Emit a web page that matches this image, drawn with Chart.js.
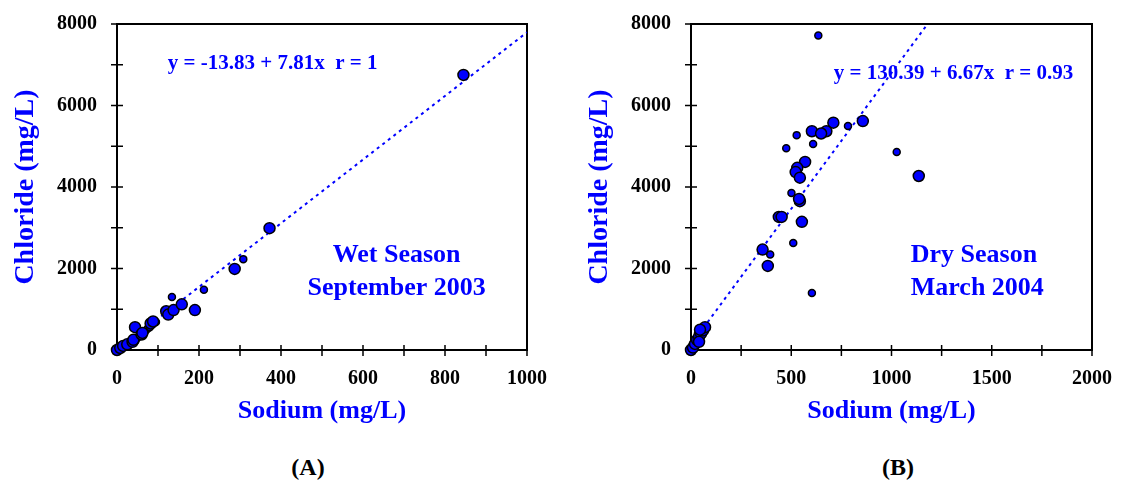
<!DOCTYPE html>
<html>
<head>
<meta charset="utf-8">
<script src="https://cdn.jsdelivr.net/npm/chart.js@4.4.1/dist/chart.umd.min.js"></script>
<style>
    body { margin: 0; background: #fff; width: 1121px; height: 495px; position: relative; overflow: hidden; }
    canvas { position: absolute; top: 0; }
    #chartA { left: 0; }
    #chartB { left: 574px; }
    .panel-label {
        position: absolute; top: 454px; width: 60px; margin-left: -30px;
        text-align: center; font: bold 24px "Liberation Serif", serif; color: #000;
    }
</style>
</head>
<body>
<canvas id="chartA" width="560" height="440"></canvas>
<canvas id="chartB" width="547" height="440"></canvas>
<div class="panel-label" style="left:308px">(A)</div>
<div class="panel-label" style="left:898px">(B)</div>

<script>
// Sodium vs chloride (mg/L), wet season September 2003
const wetNaLarge = [0, 8, 15, 25, 38, 40, 44, 60, 62, 82, 88, 120, 125, 138, 158, 190, 287, 372, 845];
const wetClLarge = [0, 50, 100, 140, 200, 250, 560, 380, 420, 650, 700, 950, 870, 980, 1120, 980, 1990, 2990, 6750];
const wetNaSmall = [3, 12, 20, 30, 45, 50, 70, 75, 80, 95, 130, 134, 212, 308];
const wetClSmall = [20, 80, 120, 160, 230, 300, 480, 530, 560, 690, 930, 1300, 1480, 2230];

// Dry season March 2004
const dryNaLarge = [0, 10, 20, 30, 40, 50, 60, 70, 45, 40, 710, 857, 603, 675, 649, 569, 1136, 530, 522, 543, 543, 539, 438, 452, 553, 357, 383];
const dryClLarge = [0, 60, 150, 250, 330, 400, 480, 560, 500, 200, 5578, 5618, 5369, 5369, 5313, 4615, 4270, 4470, 4366, 4230, 3652, 3708, 3266, 3266, 3146, 2464, 2063];
const dryNaSmall = [5, 15, 25, 35, 55, 65, 35, 635, 783, 527, 609, 475, 1026, 501, 510, 395, 603];
const dryClSmall = [30, 100, 200, 300, 450, 520, 420, 7720, 5498, 5273, 5056, 4952, 4856, 3852, 2624, 2343, 1396];

// Linear fits: [intercept, slope, r]
const wetFit = [-13.83, 7.81, 1];
const dryFit = [130.39, 6.67, 0.93];

const yTicksMax = 8000;
const yTickStep = 1000;
const yLabelStep = 2000;

const BLUE = '#0000ff';
const SERIF = '"Liberation Serif", "Times New Roman", serif';

function toPoints(xs, ys) {
    return xs.map((x, i) => ({ x: x, y: ys[i] }));
}

// Box round the plot area plus tick marks that cross each axis
const axisFrame = {
    id: 'axisFrame',
    beforeDatasetsDraw(chart) {
        const { ctx, chartArea: a, scales } = chart;
        ctx.save();
        ctx.strokeStyle = '#000';
        ctx.lineWidth = 2;
        ctx.strokeRect(a.left, a.top, a.right - a.left, a.bottom - a.top);
        ctx.lineWidth = 1.5;
        ctx.beginPath();
        scales.x.ticks.forEach(t => {
            const px = scales.x.getPixelForValue(t.value);
            ctx.moveTo(px, a.bottom - 5);
            ctx.lineTo(px, a.bottom + 6);
        });
        scales.y.ticks.forEach(t => {
            const py = scales.y.getPixelForValue(t.value);
            ctx.moveTo(a.left - 6, py);
            ctx.lineTo(a.left + 6, py);
        });
        ctx.stroke();
        ctx.restore();
    }
};

// Text placed in data units (equation, season label)
const notes = {
    id: 'notes',
    afterDatasetsDraw(chart, args, opts) {
        const { ctx, scales } = chart;
        ctx.save();
        ctx.fillStyle = BLUE;
        ctx.textBaseline = 'middle';
        (opts.items || []).forEach(n => {
            ctx.font = n.font;
            ctx.textAlign = n.align;
            ctx.fillText(n.text, scales.x.getPixelForValue(n.x), scales.y.getPixelForValue(n.y));
        });
        ctx.restore();
    }
};

function makeChart(canvasId, cfg) {
    const fit = cfg.fit;
    const lineEnd = Math.min(cfg.xMax, (yTicksMax - fit[0]) / fit[1]);

    return new Chart(document.getElementById(canvasId), {
        type: 'scatter',
        data: {
            datasets: [
                {
                    data: [
                        { x: 0, y: fit[0] + fit[1] * 0 },
                        { x: lineEnd, y: fit[0] + fit[1] * lineEnd }
                    ],
                    showLine: true,
                    borderColor: BLUE,
                    borderWidth: 2,
                    borderDash: [3, 4],
                    pointRadius: 0,
                    order: 3
                },
                {
                    data: toPoints(cfg.naLarge, cfg.clLarge),
                    backgroundColor: BLUE,
                    borderColor: '#000',
                    borderWidth: 1.5,
                    pointRadius: 5.5,
                    clip: false,
                    order: 1
                },
                {
                    data: toPoints(cfg.naSmall, cfg.clSmall),
                    backgroundColor: BLUE,
                    borderColor: '#000',
                    borderWidth: 1.5,
                    pointRadius: 3.5,
                    clip: false,
                    order: 2
                }
            ]
        },
        options: {
            responsive: false,
            animation: false,
            layout: { padding: { left: 0, top: 19, right: cfg.padRight, bottom: 13.4 } },
            plugins: {
                legend: { display: false },
                tooltip: { enabled: false },
                notes: { items: cfg.notes }
            },
            scales: {
                x: {
                    type: 'linear',
                    min: 0,
                    max: cfg.xMax,
                    grid: { display: false },
                    border: { display: false },
                    afterFit: (scale) => { scale.height = 76.6; },
                    ticks: {
                        stepSize: cfg.xStep,
                        autoSkip: false,
                        maxRotation: 0,
                        padding: 9,
                        color: '#000',
                        font: { family: SERIF, size: 20, weight: 'bold' },
                        callback: (v) => (v % cfg.xLabelStep === 0 ? String(v) : '')
                    },
                    title: {
                        display: true,
                        text: 'Sodium (mg/L)',
                        color: BLUE,
                        padding: { top: 0, bottom: 0 },
                        font: { family: SERIF, size: 26, weight: 'bold' }
                    }
                },
                y: {
                    type: 'linear',
                    min: 0,
                    max: yTicksMax,
                    grid: { display: false },
                    border: { display: false },
                    afterFit: (scale) => { scale.width = 117; },
                    ticks: {
                        stepSize: yTickStep,
                        autoSkip: false,
                        padding: 12,
                        color: '#000',
                        font: { family: SERIF, size: 20, weight: 'bold' },
                        callback: (v) => (v % yLabelStep === 0 ? String(v) : '')
                    },
                    title: {
                        display: true,
                        text: 'Chloride (mg/L)',
                        color: BLUE,
                        padding: { top: 9, bottom: 0 },
                        font: { family: SERIF, size: 28, weight: 'bold' }
                    }
                }
            }
        },
        plugins: [axisFrame, notes]
    });
}

function fitText(fit) {
    const b = fit[0] < 0 ? '-' + Math.abs(fit[0]).toFixed(2) : fit[0].toFixed(2);
    return 'y = ' + b + ' + ' + fit[1].toFixed(2) + 'x  r = ' + fit[2];
}

document.addEventListener('DOMContentLoaded', () => {
    makeChart('chartA', {
        naLarge: wetNaLarge, clLarge: wetClLarge,
        naSmall: wetNaSmall, clSmall: wetClSmall,
        fit: wetFit,
        xMax: 1000, xStep: 100, xLabelStep: 200,
        padRight: 33,
        notes: [
            { text: fitText(wetFit), x: 124, y: 7030, align: 'left', font: 'bold 21px ' + SERIF },
            { text: 'Wet Season', x: 682, y: 2327, align: 'center', font: 'bold 26px ' + SERIF },
            { text: 'September 2003', x: 682, y: 1515, align: 'center', font: 'bold 26px ' + SERIF }
        ]
    });

    makeChart('chartB', {
        naLarge: dryNaLarge, clLarge: dryClLarge,
        naSmall: dryNaSmall, clSmall: dryClSmall,
        fit: dryFit,
        xMax: 2000, xStep: 250, xLabelStep: 500,
        padRight: 20,
        notes: [
            { text: fitText(dryFit), x: 712, y: 6788, align: 'left', font: 'bold 21px ' + SERIF },
            { text: 'Dry Season', x: 1096, y: 2327, align: 'left', font: 'bold 26px ' + SERIF },
            { text: 'March 2004', x: 1096, y: 1525, align: 'left', font: 'bold 26px ' + SERIF }
        ]
    });
});
</script>
</body>
</html>
